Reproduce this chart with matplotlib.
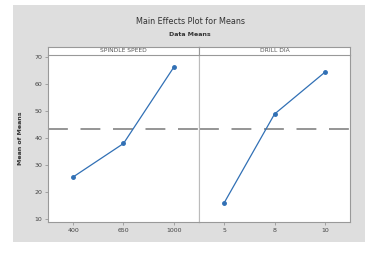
import numpy as np
import matplotlib.pyplot as plt

factors = ['SPINDLE SPEED', 'DRILL DIA']
levels = [['400', '650', '1000'], ['5', '8', '10']]
means = [[25.6, 38.0, 66.3], [16.0, 48.9, 64.4]]
yticks = [10, 20, 30, 40, 50, 60, 70]

W, H = 375, 260
fig = plt.figure(figsize=(W / 100, H / 100), dpi=100)
fig.patch.set_facecolor('white')

# grey frame behind everything
bg = fig.add_axes([13 / W, 1 - 242 / H, 352 / W, 237 / H], zorder=-1)
bg.set_facecolor('#dedede')
bg.set_xticks([])
bg.set_yticks([])
for s in bg.spines.values():
    s.set_visible(False)

fig.text(190 / W, 1 - 21 / H, 'Main Effects Plot for Means', ha='center', va='center',
         fontsize=5.8, color='#333333')
fig.text(190 / W, 1 - 34 / H, 'Data Means', ha='center', va='center',
         fontsize=4.5, color='#333333', fontweight='bold')

grand = np.mean(means)
x0, x1 = 48, 350
panel_w = (x1 - x0) / len(factors)
top, bot = 55, 222
for i, f in enumerate(factors):
    left = x0 + i * panel_w
    ax = fig.add_axes([left / W, 1 - bot / H, panel_w / W, (bot - top) / H])
    ax.set_facecolor('white')
    xs = np.arange(1, len(levels[i]) + 1)
    ax.plot(xs, means[i], color='#3170b5', lw=0.9, marker='o', ms=2.5)
    ax.axhline(grand, color='#8c8c8c', lw=1.3, dashes=(11, 7), zorder=0)
    ax.set_xlim(0.5, len(xs) + 0.5)
    ax.set_ylim(8.9, 70.8)
    ax.set_xticks(xs)
    ax.set_xticklabels(levels[i], fontsize=4.5, color='#444444')
    ax.set_yticks(yticks)
    ax.tick_params(length=2, width=0.5, colors='#888888', labelcolor='#444444',
                   labelsize=4.5, pad=2)
    for s in ax.spines.values():
        s.set_color('#999999')
        s.set_linewidth(0.8)
    ax.spines['top'].set_visible(False)
    if i == 0:
        ax.set_ylabel('Mean of Means', fontsize=4.5, fontweight='bold', color='#333333',
                      labelpad=8)
    else:
        ax.tick_params(axis='y', left=False, labelleft=False)
        ax.spines['left'].set_color('#bbbbbb')
    # strip label
    sax = fig.add_axes([left / W, 1 - top / H, panel_w / W, 8 / H])
    sax.set_facecolor('white')
    sax.set_xticks([])
    sax.set_yticks([])
    for s in sax.spines.values():
        s.set_color('#999999')
        s.set_linewidth(0.8)
    sax.text(0.5, 0.5, f, ha='center', va='center', fontsize=4.3, color='#555555',
             transform=sax.transAxes)

fig.savefig('out.png', dpi=100)
